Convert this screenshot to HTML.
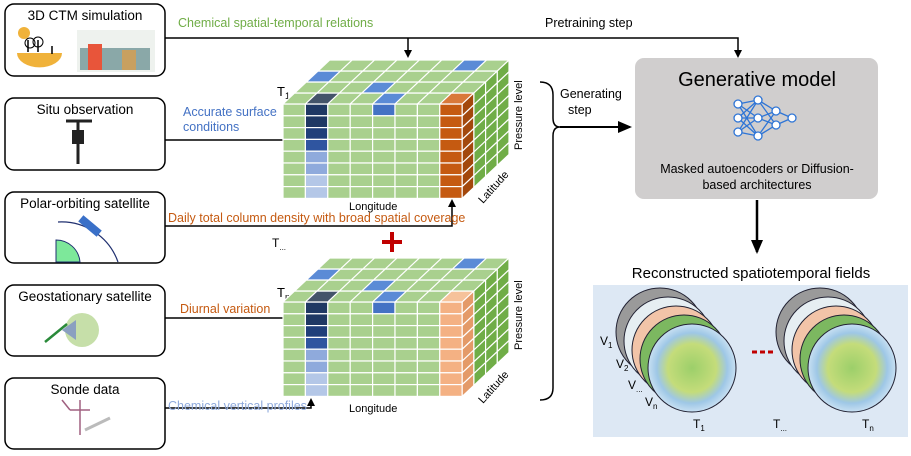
<!DOCTYPE html>
<html><head><meta charset="utf-8"><style>
body{margin:0;background:#fff;width:911px;height:451px;overflow:hidden}
svg{font-family:"Liberation Sans",sans-serif}
</style></head><body>
<svg id="s" width="911" height="451" viewBox="0 0 911 451" xmlns="http://www.w3.org/2000/svg">
<defs>
<marker id="ar" markerWidth="8" markerHeight="8" refX="6" refY="4" orient="auto" markerUnits="userSpaceOnUse"><path d="M0,0L8,4L0,8z" fill="#000"/></marker>
<marker id="ar2" markerWidth="14" markerHeight="12" refX="12" refY="6" orient="auto" markerUnits="userSpaceOnUse"><path d="M0,0L14,6L0,12z" fill="#000"/></marker>
<radialGradient id="gl" cx="50%" cy="50%" r="50%"><stop offset="0" stop-color="#9ccf6a"/><stop offset="0.55" stop-color="#c4dc7a"/><stop offset="0.8" stop-color="#9ec7e6"/><stop offset="1" stop-color="#c8e0f2"/></radialGradient>
</defs>
<g fill="#fff" stroke="#000" stroke-width="1.5">
<rect x="5" y="4" width="160" height="72" rx="9"/>
<rect x="5" y="98" width="160" height="72" rx="9"/>
<rect x="5" y="192" width="160" height="71" rx="9"/>
<rect x="5" y="285" width="160" height="71" rx="9"/>
<rect x="5" y="378" width="160" height="71" rx="9"/>
</g>
<g font-size="13.5" text-anchor="middle" fill="#000">
<text x="85" y="20">3D CTM simulation</text>
<text x="85" y="114">Situ observation</text>
<text x="85" y="208">Polar-orbiting satellite</text>
<text x="85" y="301">Geostationary satellite</text>
<text x="85" y="394">Sonde data</text>
</g>
<circle cx="24" cy="33" r="6" fill="#f0b23a"/>
<path d="M17,53 A22,14 0 0 0 62,53z" fill="#f0b23a"/>
<path d="M28,40v12M38,40v12M52,46v8" stroke="#000" stroke-width="1.5"/>
<circle cx="30" cy="43" r="5" fill="none" stroke="#000"/><circle cx="38" cy="42" r="5" fill="none" stroke="#000"/>
<rect x="77" y="30" width="78" height="42" fill="#eef2ee"/>
<rect x="80" y="48" width="70" height="22" fill="#8aa8a8"/>
<rect x="88" y="44" width="14" height="26" fill="#e8553a"/><rect x="122" y="50" width="14" height="20" fill="#c8a060"/>
<rect x="72" y="130" width="12" height="14" fill="#222"/><path d="M78,120v44M66,121h26" stroke="#222" stroke-width="3"/>
<path d="M58,222 A60,60 0 0 1 118,262" fill="none" stroke="#203070" stroke-width="1.2"/>
<path d="M56,240 A24,24 0 0 1 80,262 L56,262z" fill="#7de89a" stroke="#203070"/>
<rect x="78" y="222" width="24" height="8" fill="#3a70c8" transform="rotate(40 90 226)"/>
<circle cx="82" cy="330" r="17" fill="#c6dfa9"/><path d="M62,330l14,-10v20z" fill="#8aa0c0"/><path d="M45,342l22,-18" stroke="#2a8a3a" stroke-width="2.5"/>
<path d="M80,400v35M70,410l-8,-10M70,410l20,0" stroke="#a06080" stroke-width="1.5"/><path d="M85,430l25,-12" stroke="#bbb" stroke-width="3"/>
<g stroke="#000" stroke-width="1.5" fill="none">
<path d="M165,38H738V56" marker-end="url(#ar)"/>
<path d="M408,38V56" marker-end="url(#ar)"/>
<path d="M165,140H383V120" marker-end="url(#ar)"/>
<path d="M165,226H452V201" marker-end="url(#ar)"/>
<path d="M165,318H438" marker-end="url(#ar)"/>
<path d="M165,408H311V400" marker-end="url(#ar)"/>
<path d="M540,82Q553,82 553,95V118Q553,127 560,127Q553,127 553,136V388Q553,400 540,400"/>
<path d="M560,127H630" stroke-width="2" marker-end="url(#ar2)"/>
<path d="M757,200V252" stroke-width="2.5" marker-end="url(#ar2)"/>
</g>
<g font-size="12.5">
<text x="178" y="27" fill="#70ad47">Chemical spatial-temporal relations</text>
<text x="545" y="27" fill="#000">Pretraining step</text>
<text x="183" y="116" fill="#4472c4">Accurate surface</text>
<text x="183" y="131" fill="#4472c4">conditions</text>
<text x="168" y="222" fill="#c55a11">Daily total column density with broad spatial coverage</text>
<text x="180" y="313" fill="#c55a11">Diurnal variation</text>
<text x="168" y="410" fill="#8faadc">Chemical vertical profiles</text>
<text x="560" y="98" fill="#000">Generating</text>
<text x="568" y="114" fill="#000">step</text>
</g>
<path d="M392,232v20M382,242h20" stroke="#c00000" stroke-width="4"/>
<text x="272" y="247" font-size="12">T<tspan font-size="8" dy="3">...</tspan></text>
<text x="277" y="96" font-size="13">T<tspan font-size="9" dy="3">1</tspan></text>
<text x="277" y="297" font-size="13">T<tspan font-size="9" dy="3">n</tspan></text>
<g id="cubes"></g>
<g font-size="11">
<text x="349" y="210">Longitude</text>
<text x="349" y="412">Longitude</text>
<text transform="translate(522,150) rotate(-90)">Pressure level</text>
<text transform="translate(522,350) rotate(-90)">Pressure level</text>
<text transform="translate(483,204) rotate(-48)">Latitude</text>
<text transform="translate(483,404) rotate(-48)">Latitude</text>
</g>
<rect x="635" y="58" width="243" height="141" rx="9" fill="#d0cece"/>
<text x="757" y="86" font-size="20" text-anchor="middle">Generative model</text>
<g stroke="#2e75d6" stroke-width="1.3" fill="none">
<path d="M738,104L758,100M738,104L758,118M738,104L758,136M738,118L758,100M738,118L758,118M738,118L758,136M738,132L758,100M738,132L758,118M738,132L758,136M758,100L776,111M758,118L776,111M758,136L776,111M758,100L776,125M758,118L776,125M758,136L776,125M776,111L792,118M776,125L792,118"/>
<circle cx="738" cy="104" r="4" fill="#fff"/><circle cx="738" cy="118" r="4" fill="#fff"/><circle cx="738" cy="132" r="4" fill="#fff"/>
<circle cx="758" cy="100" r="4" fill="#fff"/><circle cx="758" cy="118" r="4" fill="#fff"/><circle cx="758" cy="136" r="4" fill="#fff"/>
<circle cx="776" cy="111" r="4" fill="#fff"/><circle cx="776" cy="125" r="4" fill="#fff"/><circle cx="792" cy="118" r="4" fill="#fff"/>
</g>
<text x="757" y="173" font-size="12.5" text-anchor="middle">Masked autoencoders or Diffusion-</text>
<text x="757" y="189" font-size="12.5" text-anchor="middle">based architectures</text>
<text x="751" y="278" font-size="15" text-anchor="middle">Reconstructed spatiotemporal fields</text>
<rect x="593" y="285" width="315" height="152" fill="#dde8f4"/>
<g id="globes"></g>
<g font-size="12">
<text x="600" y="345">V<tspan font-size="8" dy="3">1</tspan></text>
<text x="616" y="368">V<tspan font-size="8" dy="3">2</tspan></text>
<text x="628" y="389">V<tspan font-size="8" dy="3">...</tspan></text>
<text x="645" y="406">V<tspan font-size="8" dy="3">n</tspan></text>
<text x="693" y="428">T<tspan font-size="8" dy="3">1</tspan></text>
<text x="773" y="428">T<tspan font-size="8" dy="3">...</tspan></text>
<text x="862" y="428">T<tspan font-size="8" dy="3">n</tspan></text>
</g>
<path d="M752,352h5M760,352h5M768,352h5" stroke="#c00000" stroke-width="3"/>
</svg>
<script>
var NS="http://www.w3.org/2000/svg";
function el(p,t,a){var e=document.createElementNS(NS,t);for(var k in a)e.setAttribute(k,a[k]);p.appendChild(e);return e;}
var C=document.getElementById("cubes");
function cube(x0,y0,orange,topBlue){
 var cw=22.4,rh=11.8,dx=11.7,dy=-11,W=8*cw,H=8*rh;
 var blue=["#1f3864","#1f3864","#203f7a","#2f55a0","#8faadc","#8faadc","#b4c7e7","#b4c7e7"];
 for(var r=0;r<8;r++)for(var c=0;c<8;c++){
  var f="#a9d08e";
  if(c==1)f=blue[r]; if(c==7)f=orange[0]; if(r==0&&c==4)f="#4472c4";
  el(C,"rect",{x:x0+c*cw,y:y0+r*rh,width:cw,height:rh,fill:f,stroke:"#fff","stroke-width":1.2});
 }
 for(var d=0;d<4;d++)for(var c=0;c<8;c++){
  var f="#a9d08e"; topBlue.forEach(function(b){if(b[0]==d&&b[1]==c)f="#5b8bd6";});
  if(d==0&&c==1)f="#44546a"; if(d==0&&c==7)f=orange[1]; if(d==0&&c==4)f="#5b8bd6";
  var x=x0+c*cw+d*dx,y=y0+d*dy;
  el(C,"polygon",{points:[x,y,x+cw,y,x+cw+dx,y+dy,x+dx,y+dy].join(","),fill:f,stroke:"#fff","stroke-width":1.2});
 }
 for(var d=0;d<4;d++)for(var r=0;r<8;r++){
  var f=d==0?orange[2]:"#70ad47";
  var x=x0+W+d*dx,y=y0+r*rh+d*dy;
  el(C,"polygon",{points:[x,y,x+dx,y+dy,x+dx,y+dy+rh,x,y+rh].join(","),fill:f,stroke:"#fff","stroke-width":1.2});
 }
}
cube(283,104,["#c55a11","#d9793a","#a3480c"],[[2,0],[1,3],[3,6]]);
cube(283,302,["#f4b183","#f6c29a","#e49a68"],[[2,0],[1,3],[3,6]]);
var G=document.getElementById("globes");
[692,852].forEach(function(cx){
 var cols=["#9a9a9a","#e6eef2","#f2c4a8","#7cb860"];
 for(var i=0;i<4;i++){var k=4-i;el(G,"circle",{cx:cx-8*k,cy:368-9*k,r:44,fill:cols[i],stroke:"#223","stroke-width":1});}
 el(G,"circle",{cx:cx,cy:368,r:44,fill:"url(#gl)",stroke:"#223","stroke-width":1});
});
</script>
</body></html>
